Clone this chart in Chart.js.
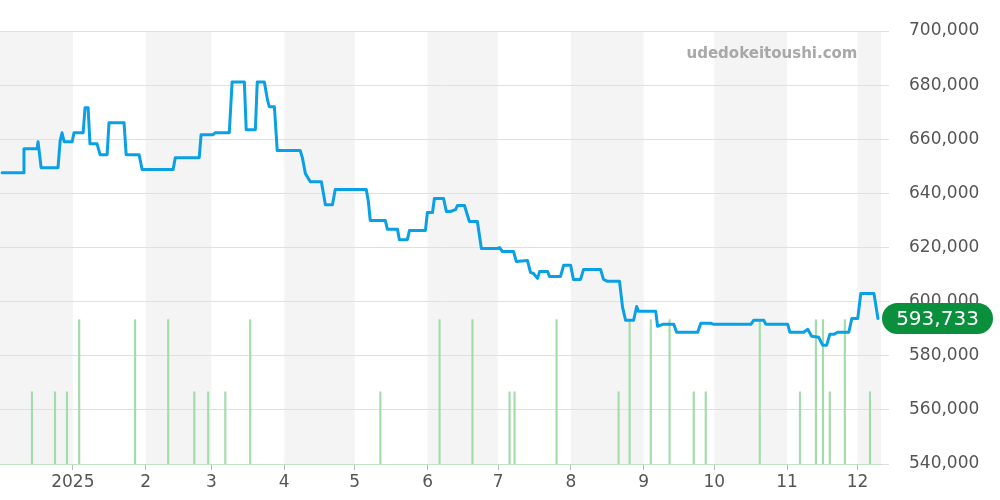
<!DOCTYPE html>
<html>
<head>
<meta charset="utf-8">
<script src="https://cdn.jsdelivr.net/npm/chart.js@4"></script>
<style>
  html, body { margin: 0; padding: 0; background: #fff; }
  #wrap { width: 1000px; height: 500px; }
</style>
</head>
<body>
<div id="wrap"><canvas id="chart"></canvas></div>
<script>
// x values are days counted from 2024-12-01
const priceDays = [0.9, 9.8, 10.2, 15.8, 16.2, 17.5, 24.7, 25.6, 26.4, 27.3, 30.7, 31.5, 35.4, 36.2, 37.5, 38.3,
  41.3, 42.6, 45.6, 46.4, 52.8, 53.7, 59.2, 60.5, 73.7, 74.6, 84.8, 85.6, 90.7, 91.6, 97.6, 98.8,
  104, 104.8, 108.7, 109.5, 112.5, 113.7, 114.6, 116.8, 118, 127.8, 128.7, 130, 132.1, 136.8, 138.5, 141.5,
  142.7, 155.9, 156.8, 157.6, 164, 164.9, 169.2, 170, 173.4, 174.3, 181.1, 181.9, 184.1, 184.9, 188.8,
  190, 191.7, 193.9, 194.7, 197.7, 199.8, 203.2, 204.9, 211.8, 212.6, 213.9, 218.6, 219.8, 224.5, 225.8,
  227.1, 228.8, 229.7, 233.1, 233.9, 238.6, 239.9, 242.9, 244.1, 247.1, 248.4, 255.6, 256.9, 258.6, 263.7,
  265, 266.3, 269.7, 271, 271.8, 279.1, 279.9, 282.1, 286.8, 288, 297, 298.3, 302.5, 303.8, 319.6, 320.8,
  325.1, 326, 335.3, 336.2, 342.1, 343.8, 345.5, 348.5, 350.2, 351.9, 353.2, 354.9, 356.6, 361.3, 362.6,
  365.1, 366.4, 372, 373.7];
const priceValues = [647600, 647600, 656500, 656500, 659100, 649500, 649500, 659400, 662400, 659100, 659100, 662400, 662400, 671600, 671600, 658300,
  658300, 654300, 654300, 666100, 666100, 654300, 654300, 648800, 648800, 653200, 653200, 661700, 661700, 662400, 662400, 681200,
  681200, 663500, 663500, 681200, 681200, 675300, 672000, 672000, 655800, 655800, 653200, 647300, 644300, 644300, 635800, 635800,
  641400, 641400, 637000, 630000, 630000, 626700, 626700, 622900, 622900, 626300, 626300, 632900, 632900, 638100, 638100,
  633300, 633300, 634000, 635500, 635500, 629600, 629600, 619600, 619600, 620000, 618500, 618500, 614800, 615200, 610800,
  610400, 608600, 611100, 611100, 609300, 609300, 613400, 613400, 608200, 608200, 611900, 611900, 608200, 607500, 607500,
  597900, 593100, 593100, 598200, 596400, 596400, 590900, 591600, 591600, 588700, 588700, 592000, 592000, 591600, 591600, 593100,
  593100, 591600, 591600, 588700, 588700, 589800, 587200, 586800, 583900, 583900, 587900, 587900, 588700, 588700, 593800,
  593800, 603000, 603000, 593733];

const tallDays = [33.7, 57.5, 71.6, 106.5, 187.1, 201.1, 236.9, 268, 277, 285, 323.4, 347.3, 350.3, 359.6];
const shortDays = [13.6, 23.4, 28.5, 82.7, 88.6, 95.9, 161.9, 216.9, 219, 263.3, 295.3, 300.4, 340.5, 353.2, 370.3];

const monthDays = [31, 62, 90, 121, 151, 182, 212, 243, 274, 304, 335, 365];
const monthLabels = ["2025", "2", "3", "4", "5", "6", "7", "8", "9", "10", "11", "12"];
const bandRanges = [[0, 31], [62, 90], [121, 151], [182, 212], [243, 274], [304, 335], [365, 375]];

const lastLabel = "593,733";

const linePoints = priceDays.map((d, i) => ({ x: d, y: priceValues[i] }));
const barPoints = tallDays.map((d) => ({ x: d, y: 2 }))
  .concat(shortDays.map((d) => ({ x: d, y: 1 })));

const bandsPlugin = {
  id: "bands",
  beforeDraw(chart) {
    const { ctx, chartArea: a, scales: { x } } = chart;
    ctx.save();
    ctx.fillStyle = "#f4f4f4";
    bandRanges.forEach(([s, e]) => {
      const x0 = x.getPixelForValue(s);
      const x1 = x.getPixelForValue(e);
      ctx.fillRect(x0, a.top, x1 - x0, a.bottom - a.top);
    });
    ctx.font = "bold 15px 'DejaVu Sans'";
    ctx.fillStyle = "#a8a8a8";
    ctx.textAlign = "center";
    ctx.fillText("udedokeitoushi.com", 772, 58);
    ctx.restore();
  },
  afterDraw(chart) {
    const { ctx, chartArea: a, scales: { y } } = chart;
    const yy = y.getPixelForValue(priceValues[priceValues.length - 1]);
    const x0 = a.right + 1, w = 111, h = 31;
    ctx.save();
    ctx.fillStyle = "#0a8f3c";
    ctx.beginPath();
    ctx.roundRect(x0, yy - h / 2, w, h, h / 2);
    ctx.fill();
    ctx.fillStyle = "#fff";
    ctx.font = "20px 'DejaVu Sans'";
    ctx.textAlign = "center";
    ctx.textBaseline = "middle";
    ctx.fillText(lastLabel, x0 + w / 2, yy + 1);
    ctx.restore();
  }
};

new Chart(document.getElementById("chart"), {
  data: {
    datasets: [{
      type: "line",
      data: linePoints,
      borderColor: "#0aa0e6",
      borderWidth: 3,
      borderJoinStyle: "round",
      borderCapStyle: "round",
      pointRadius: 0,
      tension: 0,
      yAxisID: "y",
      order: 0
    }, {
      type: "bar",
      data: barPoints,
      backgroundColor: "#a3dcaa",
      barThickness: 1.5,
      yAxisID: "y2",
      order: 1
    }]
  },
  options: {
    responsive: true,
    maintainAspectRatio: false,
    animation: false,
    layout: { padding: { top: 31, left: 0, right: 0, bottom: 0 } },
    plugins: { legend: { display: false }, tooltip: { enabled: false } },
    scales: {
      x: {
        type: "linear",
        offset: false,
        min: 0,
        max: 375,
        afterBuildTicks: (s) => { s.ticks = monthDays.map((v) => ({ value: v })); },
        afterFit: (s) => { s.height = 36; },
        ticks: {
          autoSkip: false,
          maxRotation: 0,
          color: "#555",
          font: { size: 17, family: "DejaVu Sans" },
          padding: 2,
          callback: (v, i) => monthLabels[i]
        },
        grid: { display: true, offset: false, drawOnChartArea: false, tickLength: 6, color: "#bbb" },
        border: { color: "#bde3c2", dash: [2, 2] }
      },
      y: {
        position: "right",
        min: 540000,
        max: 700000,
        afterFit: (s) => { s.width = 119; },
        ticks: {
          stepSize: 20000,
          color: "#555",
          padding: 20,
          font: { size: 17, family: "DejaVu Sans" },
          callback: (v) => v.toLocaleString("en-US")
        },
        grid: { color: "#e0e0e0", tickLength: 8 },
        border: { display: false }
      },
      y2: {
        display: false,
        min: 0,
        max: 6
      }
    }
  },
  plugins: [bandsPlugin]
});
</script>
</body>
</html>
